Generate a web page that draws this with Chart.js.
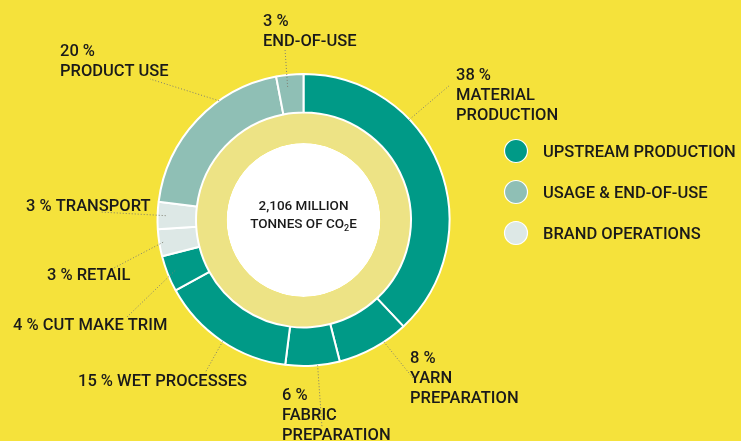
<!DOCTYPE html>
<html>
<head>
<meta charset="utf-8">
<title>Fashion CO2 footprint</title>
<script src="https://cdn.jsdelivr.net/npm/chart.js@4.4.1/dist/chart.umd.min.js"></script>
<style>
    html, body { margin: 0; padding: 0; background: #f5e23b; }
    #wrap { width: 741px; height: 441px; }
</style>
</head>
<body>
<div id="wrap"><canvas id="co2Chart" width="741" height="441"></canvas></div>
<script>

// ================= DATA =================

const categories = [
    "MATERIAL PRODUCTION",
    "YARN PREPARATION",
    "FABRIC PREPARATION",
    "WET PROCESSES",
    "CUT MAKE TRIM",
    "RETAIL",
    "TRANSPORT",
    "PRODUCT USE",
    "END-OF-USE"
];

const shares = [38, 8, 6, 15, 4, 3, 3, 20, 3];

// index into groups for every category
const categoryGroup = [0, 0, 0, 0, 0, 2, 2, 1, 1];

const groups = [
    "UPSTREAM PRODUCTION",
    "USAGE & END-OF-USE",
    "BRAND OPERATIONS"
];

const totalText = "2,106 MILLION";
const unitText = ["TONNES OF CO", "2", "E"];


// ================= STYLE =================

const groupColors = ["#009a87", "#8fbfb5", "#dde8e6"];
const innerRingColor = "#ede385";
const textColor = "#1a1a1a";
const FONT = "Roboto, 'Liberation Sans', sans-serif";

// where each slice label sits and where its leader line starts
const labelLayout = [
    { wrap: "split",  t: 0.34, depth: 1,    end: [450, 85],  x: 456, y: 80 },
    { wrap: "split",  t: 0.34, depth: 1,    end: [417, 383], x: 410, y: 363 },
    { wrap: "split",  t: 0.41, depth: 1,    end: [322, 427], x: 282, y: 400 },
    { wrap: "inline", t: 0.49, depth: 1,    end: [205, 373], x: 78,  y: 386 },
    { wrap: "inline", t: 0.51, depth: 0.79, end: [127, 317], x: 13,  y: 330 },
    { wrap: "inline", t: 0.5,  depth: 0.9,  end: [110, 270], x: 47,  y: 280 },
    { wrap: "inline", t: 0.5,  depth: 0.79, end: [100, 212], x: 26,  y: 211 },
    { wrap: "stack",  t: 0.66, depth: 1,    end: [150, 79],  x: 60,  y: 56 },
    { wrap: "stack",  t: 0.37, depth: 0.69, end: [285, 49],  x: 263, y: 26 }
];

function labelLines(i) {
    const pct = shares[i] + " %";
    const wrap = labelLayout[i].wrap;
    if (wrap === "inline") return [pct + " " + categories[i]];
    if (wrap === "stack") return [pct, categories[i]];
    return [pct].concat(categories[i].split(" "));
}


// ================= PLUGIN =================

const decorations = {

    id: "decorations",

    beforeDatasetsDraw(chart) {
        // white disc in the middle
        const arc = chart.getDatasetMeta(1).data[0];
        const ctx = chart.ctx;
        ctx.save();
        ctx.beginPath();
        ctx.arc(arc.x, arc.y, arc.innerRadius, 0, Math.PI * 2);
        ctx.fillStyle = "#ffffff";
        ctx.fill();
        ctx.restore();
    },

    afterDatasetsDraw(chart) {
        const ctx = chart.ctx;
        const arcs = chart.getDatasetMeta(0).data;

        ctx.save();

        // leader lines
        ctx.setLineDash([1, 2]);
        ctx.lineWidth = 1;
        ctx.strokeStyle = "#7f7f70";
        arcs.forEach((arc, i) => {
            const p = arc.getProps(["x", "y", "startAngle", "endAngle", "innerRadius", "outerRadius"], true);
            const lay = labelLayout[i];
            const a = p.startAngle + lay.t * (p.endAngle - p.startAngle);
            const r = p.innerRadius + lay.depth * (p.outerRadius - p.innerRadius);
            ctx.beginPath();
            ctx.moveTo(p.x + r * Math.cos(a), p.y + r * Math.sin(a));
            ctx.lineTo(lay.end[0], lay.end[1]);
            ctx.stroke();
        });
        ctx.setLineDash([]);

        // slice labels
        ctx.fillStyle = textColor;
        ctx.font = "500 16.5px " + FONT;
        ctx.textAlign = "left";
        ctx.textBaseline = "alphabetic";
        arcs.forEach((arc, i) => {
            const lay = labelLayout[i];
            labelLines(i).forEach((line, k) => {
                ctx.fillText(line, lay.x, lay.y + k * 20);
            });
        });

        // legend
        groups.forEach((g, i) => {
            const cy = 151 + i * 41;
            ctx.beginPath();
            ctx.arc(516, cy, 11.5, 0, Math.PI * 2);
            ctx.fillStyle = groupColors[i];
            ctx.fill();
            ctx.lineWidth = 1.2;
            ctx.strokeStyle = "#ffffff";
            ctx.stroke();
            ctx.fillStyle = textColor;
            ctx.fillText(g, 543, cy + 6);
        });

        // centre text
        const cx = arcs[0].x;
        ctx.font = "500 13.5px " + FONT;
        ctx.textAlign = "center";
        ctx.fillText(totalText, cx, 210);

        ctx.textAlign = "left";
        const w1 = ctx.measureText(unitText[0]).width;
        const w3 = ctx.measureText(unitText[2]).width;
        ctx.font = "500 9px " + FONT;
        const w2 = ctx.measureText(unitText[1]).width;
        let x = cx - (w1 + w2 + w3) / 2;
        ctx.font = "500 13.5px " + FONT;
        ctx.fillText(unitText[0], x, 228);
        x += w1;
        ctx.font = "500 9px " + FONT;
        ctx.fillText(unitText[1], x, 231);
        x += w2;
        ctx.font = "500 13.5px " + FONT;
        ctx.fillText(unitText[2], x, 228);

        ctx.restore();
    }

};


// ================= DOUGHNUT =================

const co2Chart = document.getElementById("co2Chart");

if (co2Chart) {

    new Chart(co2Chart, {

        type: "doughnut",

        data: {

            labels: categories,

            datasets: [
                {
                    data: shares,
                    backgroundColor: categoryGroup.map(g => groupColors[g]),
                    borderColor: "#ffffff",
                    borderWidth: 2,
                    weight: 38.5
                },
                {
                    data: [shares.reduce((a, b) => a + b, 0)],
                    backgroundColor: innerRingColor,
                    borderWidth: 0,
                    weight: 30.5
                }
            ]

        },

        options: {

            responsive: false,
            animation: false,
            cutout: "52.7%",

            layout: {
                padding: { left: 156.5, right: 290.5, top: 73, bottom: 74 }
            },

            plugins: {
                legend: { display: false },
                tooltip: { enabled: false }
            }

        },

        plugins: [decorations]

    });

}

</script>
</body>
</html>
